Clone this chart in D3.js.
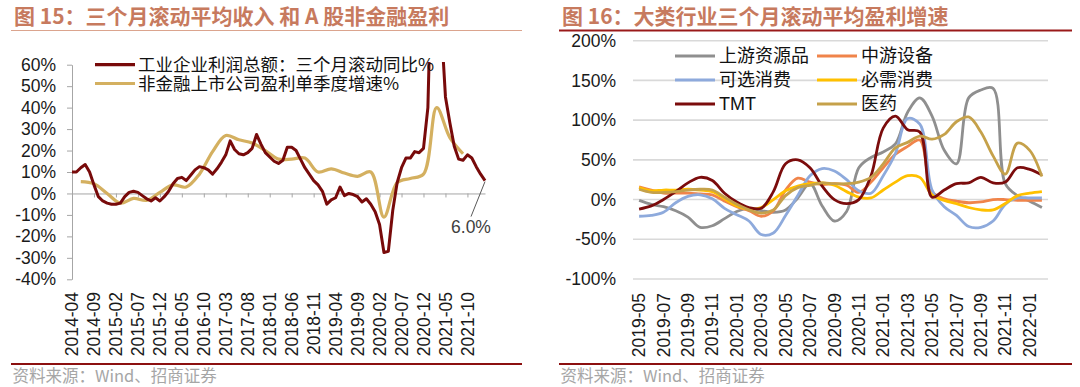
<!DOCTYPE html>
<html>
<head>
<meta charset="utf-8">
<script src="https://cdn.jsdelivr.net/npm/d3@7"></script>
<style>
  html, body { margin: 0; padding: 0; background: #fff; }
  svg { display: block; }
  .num { font-family: "Liberation Sans", Arial, sans-serif; }
  .cjk { font-family: "Noto Sans CJK SC", sans-serif; }
</style>
</head>
<body>
<svg id="chart" width="1080" height="387"></svg>
<script>
// month labels "YYYY-MM"
function monthRange(year, month, count) {
  const out = [];
  for (let k = 0; k < count; k++) {
    const m = month - 1 + k;
    const yy = year + Math.floor(m / 12);
    const mm = (m % 12) + 1;
    out.push(yy + "-" + String(mm).padStart(2, "0"));
  }
  return out;
}

// ---- 图15 data ----
const leftMonths = monthRange(2014, 4, 95); // 2014-04 .. 2022-02
const profitRolling = [
  10, 10, 12, 13.5, 10, 4, -1.5, -3.5, -4.5, -5,
  -5, -4.5, -1.5, 0.5, 1, 0.5, -1, -2.5, -3.5, -2,
  -3.5, -1.5, 1, 4.5, 7, 7.5, 6, 8.5, 11, 12.5,
  12, 11, 9, 11.5, 14.5, 18, 24.5, 20.5, 18.5, 18,
  19, 21, 27.5, 23, 19, 17, 15, 14, 15.5, 21.5,
  21.5, 20, 16, 12, 9, 6, 4, 1, -5, -3,
  -2, 3, -1, 0, -0.5, -1.5, -4, -2.5, -5, -8.5,
  -14.5, -27.5, -27, -8, 5, 12, 16.5, 16.5, 19.5, 19,
  21, 40, 120, 150, 80, 45, 33, 22, 16, 15.5,
  18, 16.5, 12.5, 9, 6
];
const listedQuarters = leftMonths.filter(m => +m.slice(5) % 3 === 0 && m <= "2021-09");
const listedGrowth = [
  5.5, 4.5, 0,
  -4.5, -2.3, -3.2, 0.5,
  4, 3, 9, 19.5,
  27, 25, 23.5, 20,
  16, 16, 16.5, 10,
  11.5, 9.5, 8, 10,
  -11, 5, 7, 9,
  40, 26, 18.5
];
const leftTicks = [-40, -30, -20, -10, 0, 10, 20, 30, 40, 50, 60];
const leftLabelMonths = leftMonths.filter((m, i) => i % 5 === 0 && i <= 90);

// ---- 图16 data ----
const rightMonths = monthRange(2019, 5, 34); // 2019-05 .. 2022-02
const upstream = [
  -1, -6, -9, -14, -22, -35, -33, -24, -15, -11,
  -14, -16, -13, 2, 20, -8, -27, -15, 40, 53,
  60, 70, 110, 128, 105, 62, 45, 128, 138, 140,
  20, 5, -2, -10
];
const midstream = [
  16, 12, 8, 8, 8, 7, 6, -2, -9, -14,
  -21, -14, 12, 27, 22, 19, 20, 18, 9, 22,
  40, 57, 67, 75, 10, 1, -2, -4, -3, 0,
  0, -1, -1, -1
];
const optionalCons = [
  -21, -20, -16, -4, 4, 6, 1, -11, -19, -27,
  -44, -42, -20, 5, 30, 39, 36, 25, 11, 8,
  30, 58, 102, 95, 12, -9, -20, -34, -35, -27,
  -6, 2, 2, 2
];
const staples = [
  15, 11, 12, 12, 13, 12, 10, 1, -8, -12,
  -10, 0, 11, 17, 20, 21, 18, 10, 3, 2,
  12, 22, 30, 28, 6, -1, -5, -10, -13, -13,
  -5, 5, 8, 10
];
const tmt = [
  -12, -8, 0, 10, 21, 28, 24, 8, -3, -10,
  -11, 10, 45, 50, 40, 17, 0, -5, 0, 30,
  90, 105, 88, 85, 3, 12, 20, 21, 28, 21,
  22, 40, 38, 31
];
const pharma = [
  13, 9, 9, 10, 12, 13, 12, 3, -6, -13,
  -17, -13, 5, 15, 18, 21, 20, 20, 22, 28,
  45, 65, 72, 80, 76, 82, 98, 104, 85, 55,
  32, 71, 62, 29
];
const rightSeries = [
  { name: "上游资源品", values: upstream, color: "#8f8f8f" },
  { name: "中游设备", values: midstream, color: "#f0844a" },
  { name: "可选消费", values: optionalCons, color: "#8eaadc" },
  { name: "必需消费", values: staples, color: "#ffc000" },
  { name: "TMT", values: tmt, color: "#7b0c0c" },
  { name: "医药", values: pharma, color: "#c5a14a" }
];
const rightTicks = [-100, -50, 0, 50, 100, 150, 200];
const rightLabelMonths = rightMonths.filter((m, i) => i % 2 === 0);

const svg = d3.select("#chart");
svg.append("rect").attr("width", 1080).attr("height", 387).attr("fill", "#fff");

// ---------- headers / footers ----------
function frame(x0, x1, title, ruleColor, ruleWidth) {
  svg.append("text").attr("class", "cjk")
    .attr("x", x0 + 3).attr("y", 24)
    .attr("font-size", 21).attr("font-weight", 700)
    .attr("fill", "#c77a5e")
    .text(title);
  svg.append("line")
    .attr("x1", x0).attr("x2", x1).attr("y1", 30.5).attr("y2", 30.5)
    .attr("stroke", ruleColor).attr("stroke-width", ruleWidth);
  svg.append("line")
    .attr("x1", x0).attr("x2", x1).attr("y1", 364).attr("y2", 364)
    .attr("stroke", "#8c1010").attr("stroke-width", 2);
  svg.append("text").attr("class", "cjk")
    .attr("x", x0 + 1.5).attr("y", 382)
    .attr("font-size", 16.5).attr("fill", "#a6a6a6")
    .text("资料来源：Wind、招商证券");
}
frame(11, 522, "图 15：三个月滚动平均收入 和 A 股非金融盈利", "#dba48e", 1.2);
frame(559, 1072, "图 16：大类行业三个月滚动平均盈利增速", "#9a1a1a", 2);

// ---------- 图15 ----------
const xL = d3.scalePoint().domain(leftMonths).range([72, 485]);
const yL = d3.scaleLinear().domain([-40, 60]).range([279.3, 64.7]);

svg.append("clipPath").attr("id", "clipL")
  .append("rect").attr("x", 60).attr("y", 62).attr("width", 440).attr("height", 230);

const gL = svg.append("g");

// y axis
const yAxisL = gL.append("g").attr("transform", "translate(72,0)")
  .call(d3.axisLeft(yL).tickValues(leftTicks).tickSize(5).tickSizeOuter(0)
    .tickPadding(11).tickFormat(d => d + "%"));
yAxisL.select(".domain").attr("stroke", "#a6a6a6");
yAxisL.selectAll(".tick line").attr("stroke", "#a6a6a6");
yAxisL.selectAll(".tick text").attr("class", "num")
  .attr("font-size", 17.5).attr("fill", "#1a1a1a");

// x axis at 0
const xAxisL = gL.append("g").attr("transform", `translate(0,${yL(0)})`)
  .call(d3.axisBottom(xL).tickValues(leftLabelMonths).tickSize(4).tickSizeOuter(0).tickFormat(""));
xAxisL.select(".domain").attr("stroke", "#a6a6a6");
xAxisL.selectAll(".tick line").attr("stroke", "#a6a6a6");

gL.selectAll("text.xl").data(leftLabelMonths).enter().append("text")
  .attr("class", "num xl")
  .attr("transform", d => `translate(${xL(d)},292) rotate(-90)`)
  .attr("text-anchor", "end").attr("dy", "0.35em")
  .attr("font-size", 17.5).attr("fill", "#1a1a1a")
  .text(d => d);

// lines
const listedLine = d3.line()
  .x((d, i) => xL(listedQuarters[i])).y(d => yL(d))
  .curve(d3.curveCatmullRom.alpha(0.5));
gL.append("path").datum(listedGrowth)
  .attr("d", listedLine).attr("fill", "none")
  .attr("stroke", "#d4b060").attr("stroke-width", 3.2)
  .attr("stroke-linejoin", "round");

const profitLine = d3.line()
  .x((d, i) => xL(leftMonths[i])).y(d => yL(d));
gL.append("path").datum(profitRolling)
  .attr("clip-path", "url(#clipL)")
  .attr("d", profitLine).attr("fill", "none")
  .attr("stroke", "#780a0a").attr("stroke-width", 3)
  .attr("stroke-linejoin", "round");

// last value callout
const lastM = leftMonths[leftMonths.length - 1];
const lastV = profitRolling[profitRolling.length - 1];
gL.append("line")
  .attr("x1", xL(lastM)).attr("y1", yL(lastV) + 1)
  .attr("x2", xL(lastM) - 14).attr("y2", yL(lastV) + 36)
  .attr("stroke", "#595959").attr("stroke-width", 1);
gL.append("text").attr("class", "num")
  .attr("x", xL(lastM) - 14).attr("y", yL(lastV) + 52)
  .attr("text-anchor", "middle").attr("font-size", 17.5).attr("fill", "#404040")
  .text(lastV.toFixed(1) + "%");

// legend
const legL = [
  { name: "工业企业利润总额：三个月滚动同比%", color: "#780a0a" },
  { name: "非金融上市公司盈利单季度增速%", color: "#d4b060" }
];
legL.forEach((d, i) => {
  const y = 64.7 + i * 18.8;
  gL.append("line").attr("x1", 95).attr("x2", 135).attr("y1", y).attr("y2", y)
    .attr("stroke", d.color).attr("stroke-width", 3.2);
  gL.append("text").attr("class", "cjk")
    .attr("x", 138).attr("y", y).attr("dy", "0.36em")
    .attr("font-size", 17.5).attr("fill", "#111").text(d.name);
});

// ---------- 图16 ----------
const xR = d3.scaleBand().domain(rightMonths).range([633, 1048]);
const yR = d3.scaleLinear().domain([-100, 200]).range([279, 40.7]);
const cx = m => xR(m) + xR.bandwidth() / 2;

const gR = svg.append("g");
gR.selectAll("line.grid").data(rightTicks).enter().append("line")
  .attr("class", "grid")
  .attr("x1", 633).attr("x2", 1048)
  .attr("y1", d => yR(d)).attr("y2", d => yR(d))
  .attr("stroke", "#d9d9d9").attr("stroke-width", 1.6);
gR.selectAll("text.yr").data(rightTicks).enter().append("text")
  .attr("class", "num yr")
  .attr("x", 616).attr("y", d => yR(d)).attr("dy", "0.35em")
  .attr("text-anchor", "end").attr("font-size", 17.5).attr("fill", "#1a1a1a")
  .text(d => d + "%");
gR.selectAll("text.xr").data(rightLabelMonths).enter().append("text")
  .attr("class", "num xr")
  .attr("transform", d => `translate(${cx(d)},293) rotate(-90)`)
  .attr("text-anchor", "end").attr("dy", "0.35em")
  .attr("font-size", 17.5).attr("fill", "#1a1a1a")
  .text(d => d);

const lineR = d3.line()
  .x((d, i) => cx(rightMonths[i])).y(d => yR(d))
  .curve(d3.curveCatmullRom.alpha(0.5));
rightSeries.forEach(s => {
  gR.append("path").datum(s.values)
    .attr("d", lineR).attr("fill", "none")
    .attr("stroke", s.color).attr("stroke-width", 2.8)
    .attr("stroke-linejoin", "round");
});

// legend (2 columns, row-major)
rightSeries.forEach((s, i) => {
  const col = i % 2, row = Math.floor(i / 2);
  const x0 = col === 0 ? 675 : 817;
  const y = 56 + row * 24;
  gR.append("line").attr("x1", x0).attr("x2", x0 + 40).attr("y1", y).attr("y2", y)
    .attr("stroke", s.color).attr("stroke-width", 3);
  gR.append("text").attr("class", s.name === "TMT" ? "num" : "cjk")
    .attr("x", x0 + 44).attr("y", y).attr("dy", "0.36em")
    .attr("font-size", 18).attr("fill", "#111").text(s.name);
});
</script>
</body>
</html>
